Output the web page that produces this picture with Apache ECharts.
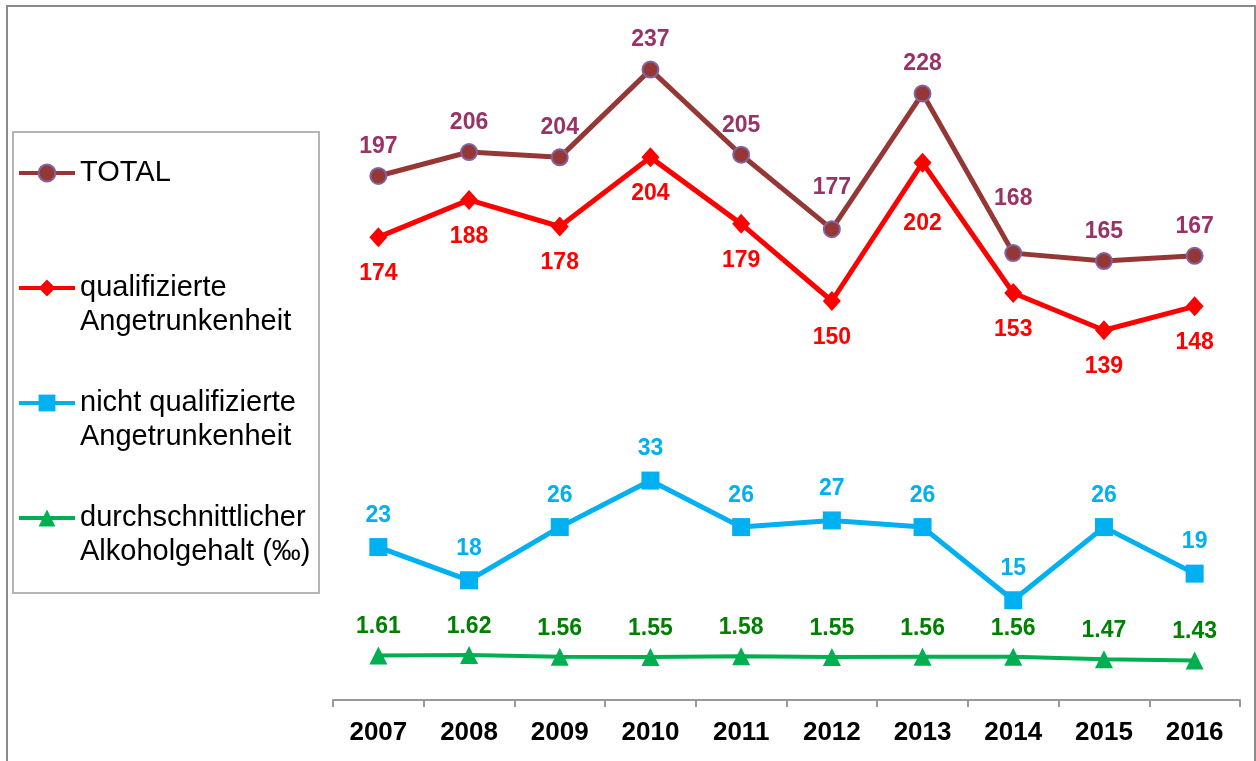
<!DOCTYPE html>
<html>
<head>
<meta charset="utf-8">
<script src="https://cdn.jsdelivr.net/npm/echarts@6/dist/echarts.min.js"></script>
<style>
  html, body { margin: 0; padding: 0; background: #fff; }
  #chart { width: 1256px; height: 761px; }
</style>
</head>
<body>
<div id="chart"></div>
<script>
// values
var years = ['2007', '2008', '2009', '2010', '2011', '2012', '2013', '2014', '2015', '2016'];
var total = [197, 206, 204, 237, 205, 177, 228, 168, 165, 167];
var qualified = [174, 188, 178, 204, 179, 150, 202, 153, 139, 148];
var notQualified = [23, 18, 26, 33, 26, 27, 26, 15, 26, 19];
var alcohol = [1.61, 1.62, 1.56, 1.55, 1.58, 1.55, 1.56, 1.56, 1.47, 1.43];

var names = ['TOTAL', 'qualifizierte Angetrunkenheit', 'nicht qualifizierte Angetrunkenheit', 'durchschnittlicher Alkoholgehalt (‰)'];
var legendText = {
    'TOTAL': 'TOTAL',
    'qualifizierte Angetrunkenheit': '\nqualifizierte\nAngetrunkenheit',
    'nicht qualifizierte Angetrunkenheit': '\nnicht qualifizierte\nAngetrunkenheit',
    'durchschnittlicher Alkoholgehalt (‰)': '\ndurchschnittlicher\nAlkoholgehalt (‰)'
};

var font = "'Liberation Sans', Arial, sans-serif";

// some labels were moved by hand in the original
var totalNudge = {5: 12, 7: 25};
var qualifiedNudge = {6: 24};

function withNudge(values, nudge, base) {
    return values.map(function (v, i) {
        if (nudge[i]) {
            return {value: v, label: {distance: base + nudge[i]}};
        }
        return v;
    });
}

function legendAt(name, top) {
    return {
        data: [name],
        left: 17,
        top: top,
        padding: 0,
        itemWidth: 56,
        itemHeight: 21,
        selectedMode: false,
        lineStyle: {width: 4},
        formatter: function (n) { return legendText[n]; },
        textStyle: {fontFamily: font, fontSize: 29, color: '#000', lineHeight: 34}
    };
}

var chart = echarts.init(document.getElementById('chart'));

var labelBase = {show: true, fontFamily: font, fontSize: 23, fontWeight: 'bold'};

var option = {
    animation: false,
    backgroundColor: '#fff',
    graphic: [
        {type: 'rect', shape: {x: 7, y: 6, width: 1248, height: 800}, style: {fill: 'none', stroke: '#8a8a8a', lineWidth: 2}, silent: true},
        {type: 'rect', shape: {x: 13, y: 132, width: 306, height: 461}, style: {fill: 'none', stroke: '#b4b4b4', lineWidth: 2}, silent: true}
    ],
    legend: [
        legendAt(names[0], 156),
        legendAt(names[1], 237),
        legendAt(names[2], 352),
        legendAt(names[3], 467)
    ],
    grid: {left: 333, right: 16, top: 35, bottom: 61},
    xAxis: {
        type: 'category',
        data: years,
        axisLine: {lineStyle: {color: '#999', width: 2}},
        axisTick: {show: true, length: 7, lineStyle: {color: '#999', width: 2}},
        axisLabel: {fontFamily: font, fontSize: 26, fontWeight: 'bold', color: '#000', margin: 20}
    },
    yAxis: [
        {type: 'value', min: 0, max: 250, show: false, splitLine: {show: false}},
        {type: 'value', min: 0, max: 100, show: false, splitLine: {show: false}},
        {type: 'value', min: 0, max: 24, show: false, splitLine: {show: false}}
    ],
    series: [
        {
            name: names[0],
            type: 'line',
            yAxisIndex: 0,
            data: withNudge(total, totalNudge, 9),
            symbol: 'circle',
            symbolSize: 16,
            lineStyle: {color: '#953735', width: 5},
            itemStyle: {color: '#953735', borderColor: '#8064a2', borderWidth: 2},
            label: Object.assign({position: 'top', distance: 9, color: '#993366'}, labelBase),
            z: 4
        },
        {
            name: names[1],
            type: 'line',
            yAxisIndex: 0,
            data: withNudge(qualified, qualifiedNudge, 15),
            symbol: 'diamond',
            symbolSize: [18, 20],
            lineStyle: {color: '#ff0000', width: 5},
            itemStyle: {color: '#ff0000'},
            label: Object.assign({position: 'bottom', distance: 15, color: '#ff0000'}, labelBase),
            z: 3
        },
        {
            name: names[2],
            type: 'line',
            yAxisIndex: 1,
            data: notQualified,
            symbol: 'rect',
            symbolSize: 18,
            lineStyle: {color: '#00b0f0', width: 5},
            itemStyle: {color: '#00b0f0'},
            label: Object.assign({position: 'top', distance: 11, color: '#00b0f0'}, labelBase),
            z: 2
        },
        {
            name: names[3],
            type: 'line',
            yAxisIndex: 2,
            data: alcohol,
            symbol: 'triangle',
            symbolSize: 18,
            lineStyle: {color: '#00b050', width: 4},
            itemStyle: {color: '#00b050'},
            label: Object.assign({
                position: 'top', distance: 8, color: '#008000',
                formatter: function (p) { return p.value.toFixed(2); }
            }, labelBase),
            z: 2
        }
    ]
};

chart.setOption(option);
</script>
</body>
</html>
